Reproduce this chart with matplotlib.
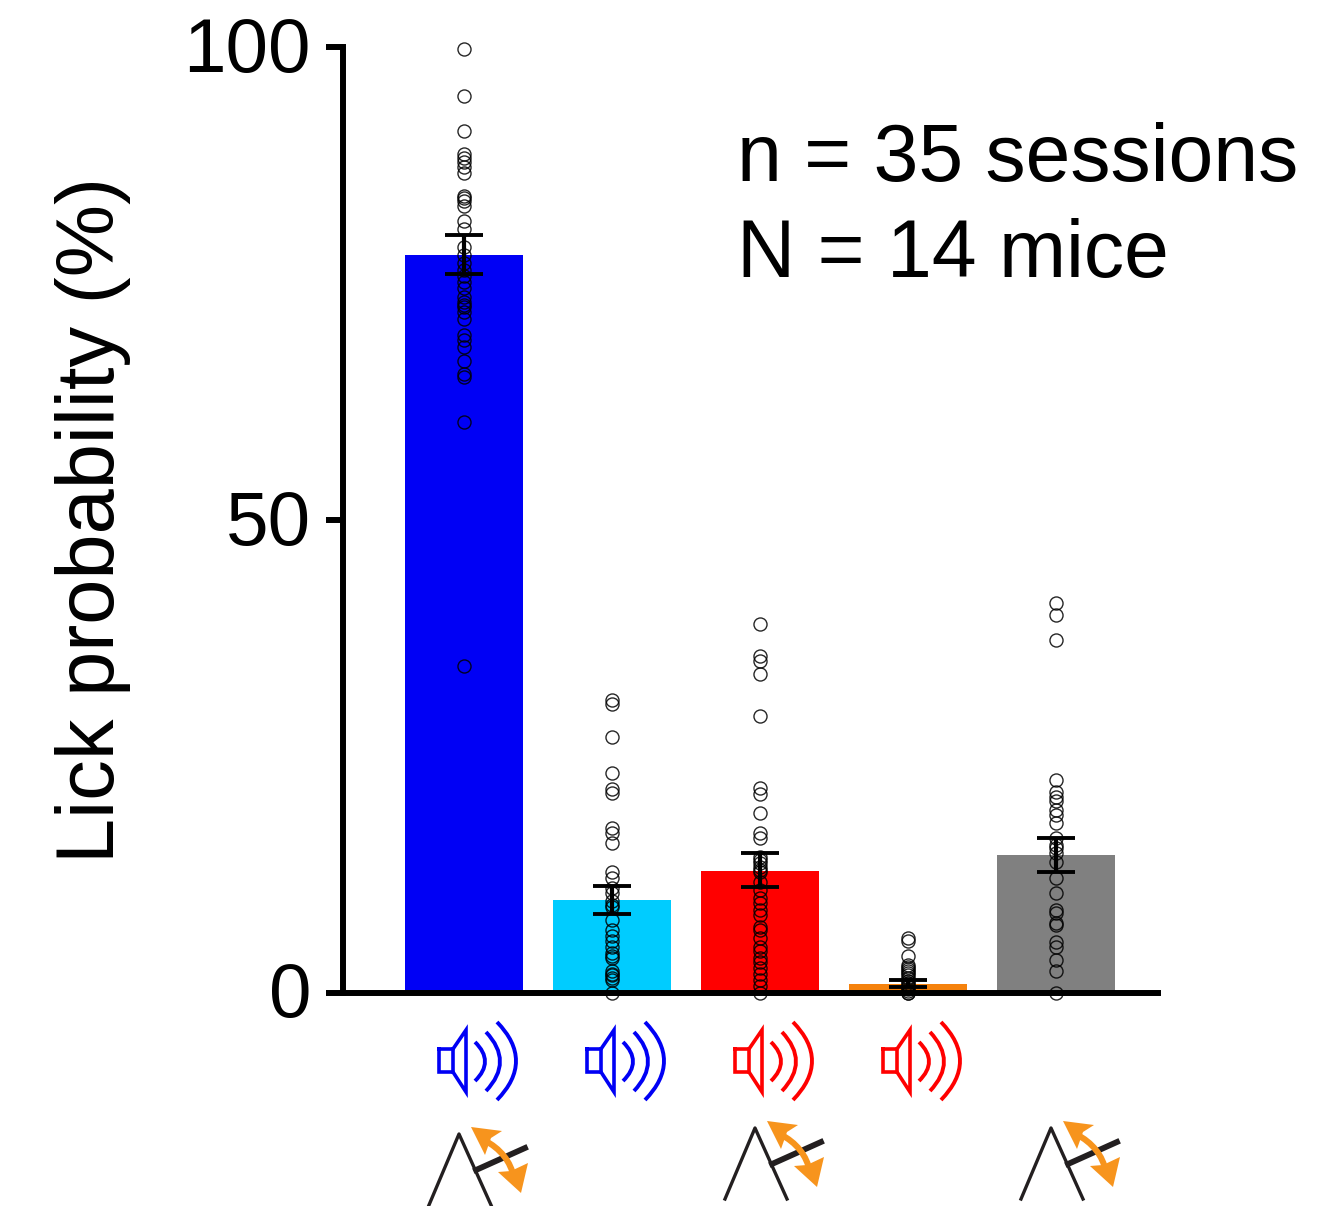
import matplotlib
matplotlib.use("Agg")
import matplotlib.pyplot as plt
from matplotlib.path import Path
from matplotlib.patches import PathPatch, Polygon
from matplotlib.transforms import ScaledTranslation

plt.rcParams['font.family'] = ['Liberation Sans', 'DejaVu Sans']

bar_means = [78.0, 9.75, 12.9, 0.9, 14.5]
err_low = [76.0, 8.3, 11.2, 0.6, 12.8]
err_high = [80.2, 11.3, 14.8, 1.3, 16.3]
bar_colors = ['#0000F5', '#00CCFF', '#FF0000', '#F5820D', '#808080']
y_ticks = [0, 50, 100]

dots_blue = [99.8, 94.9, 91.2, 88.7, 88.3, 87.9, 87.4, 86.7, 84.3, 84.1, 83.8, 83.2,
             81.6, 80.8, 78.9, 78.0, 77.2, 76.5, 75.8, 75.2, 74.6, 73.6, 73.1, 72.8,
             72.5, 72.0, 71.3, 69.6, 69.1, 68.3, 66.8, 65.5, 65.1, 60.4, 34.6]
dots_cyan = [31.0, 30.5, 27.0, 23.2, 21.5, 21.1, 17.4, 16.9, 15.8, 12.7, 12.1, 11.1,
             10.5, 9.7, 9.3, 9.0, 7.7, 6.6, 6.0, 5.5, 4.8, 4.2, 3.9, 3.6, 2.3, 2.0,
             1.8, 1.5, 1.3, 0.0]
dots_red = [39.0, 35.6, 35.1, 33.7, 29.3, 21.6, 21.0, 19.0, 16.9, 16.4, 14.3, 14.0,
            13.7, 13.3, 13.0, 12.7, 11.7, 10.8, 10.0, 9.5, 8.7, 8.2, 6.9, 6.6, 5.8,
            4.8, 4.4, 3.7, 3.2, 2.6, 2.0, 1.3, 0.7, 0.0]
dots_orange = [5.8, 5.4, 3.9, 2.9, 2.7, 2.5, 2.3, 2.1, 1.8, 1.5, 1.2, 1.0, 0.8, 0.6,
               0.4, 0.2, 0.0, 0.0]
dots_gray = [41.2, 40.0, 37.3, 22.5, 21.2, 20.7, 20.3, 19.3, 18.8, 17.9, 16.3, 15.6,
             15.3, 14.8, 13.8, 12.1, 10.5, 8.7, 8.4, 7.4, 7.1, 5.3, 4.8, 3.4, 2.3, 0.0]
all_dots = [dots_blue, dots_cyan, dots_red, dots_orange, dots_gray]

W, H = 1340, 1206
fig = plt.figure(figsize=(W / 100, H / 100), dpi=100, facecolor='white')
ax = fig.add_axes([343 / W, 1 - 992.5 / H, (1158 - 343) / W, (992.5 - 47.5) / H])
ax.set_xlim(-0.8176, 4.69)
ax.set_ylim(0, 100)
ax.patch.set_visible(False)

xs = list(range(5))
ax.bar(xs, bar_means, width=0.797, color=bar_colors, zorder=2)
for i, d in enumerate(all_dots):
    ax.plot([i] * len(d), d, ls='none', marker='o', ms=9.4, mfc='none', mec='black',
            mew=1.0, alpha=0.85, clip_on=False, zorder=5)
yerr = [[m - l for m, l in zip(bar_means, err_low)],
        [h - m for m, h in zip(bar_means, err_high)]]
ax.errorbar(xs, bar_means, yerr=yerr, fmt='none', ecolor='black', elinewidth=3.0,
            capsize=13.5, capthick=2.8, clip_on=False, zorder=6)

for s in ('top', 'right'):
    ax.spines[s].set_visible(False)
for s in ('left', 'bottom'):
    ax.spines[s].set_linewidth(4.3)
    ax.spines[s].set_zorder(4)
ax.set_xticks([])
ax.set_yticks(y_ticks)
ax.tick_params(axis='y', length=12, width=4.3, labelsize=55, pad=11)
shift = ScaledTranslation(0, 3 / 100, fig.dpi_scale_trans)
for lab in ax.get_yticklabels():
    lab.set_transform(lab.get_transform() + shift)
ax.set_ylabel('Lick probability (%)', fontsize=58.5)
ax.yaxis.set_label_coords((131 - 343) / (1158 - 343), (992.5 - 520) / 945)

# overlay in pixel units for annotation and the icon row
ov = fig.add_axes([0, 0, 1, 1])
ov.set_xlim(0, W)
ov.set_ylim(H, 0)
ov.axis('off')
ov.patch.set_visible(False)
ov.text(737, 160, 'n = 35 sessions', fontsize=58, va='center', ha='left')
ov.text(737, 256, 'N = 14 mice', fontsize=58, va='center', ha='left')


def speaker(dx, color):
    ov.plot([439 + dx, 453 + dx, 466 + dx, 466 + dx, 453 + dx, 439 + dx, 439 + dx],
            [1049, 1049, 1030, 1092, 1072, 1072, 1049], color=color, lw=2.6,
            solid_joinstyle='miter')
    ov.plot([453 + dx, 453 + dx], [1049, 1072], color=color, lw=2.6)
    for x0, xm, y0, y1 in [(475, 495, 1042, 1081), (486, 514, 1032, 1091), (497, 535, 1022, 1100)]:
        p = Path([(x0 + dx, y0), (xm + dx, (y0 + y1) / 2), (x0 + dx, y1)],
                 [Path.MOVETO, Path.CURVE3, Path.CURVE3])
        ov.add_patch(PathPatch(p, fc='none', ec=color, lw=2.8))


def rig(dx, dy):
    org = '#F7941D'
    ov.plot([429 + dx, 459 + dx, 491 + dx], [1205 + dy, 1134 + dy, 1205 + dy],
            color='#231F20', lw=2.4, solid_joinstyle='round')
    ov.plot([476 + dx, 525 + dx], [1170 + dy, 1148 + dy], color='#231F20', lw=4.2)
    p = Path([(484 + dx, 1140 + dy), (509 + dx, 1153 + dy), (514 + dx, 1178 + dy)],
             [Path.MOVETO, Path.CURVE3, Path.CURVE3])
    ov.add_patch(PathPatch(p, fc='none', ec=org, lw=4.4, zorder=3))
    ov.add_patch(Polygon([(471 + dx, 1127 + dy), (502 + dx, 1131 + dy), (491 + dx, 1138 + dy),
                          (485 + dx, 1155 + dy)], fc=org, ec='none', zorder=3))
    ov.add_patch(Polygon([(521 + dx, 1193 + dy), (498 + dx, 1172 + dy), (511 + dx, 1171 + dy),
                          (528 + dx, 1163 + dy)], fc=org, ec='none', zorder=3))


for i, c in enumerate(['#0000F5', '#0000F5', '#FF0000', '#FF0000']):
    speaker(148 * i, c)
rig(0, 0)
rig(296, -6)
rig(592, -6)

fig.savefig('out.png', dpi=100)
